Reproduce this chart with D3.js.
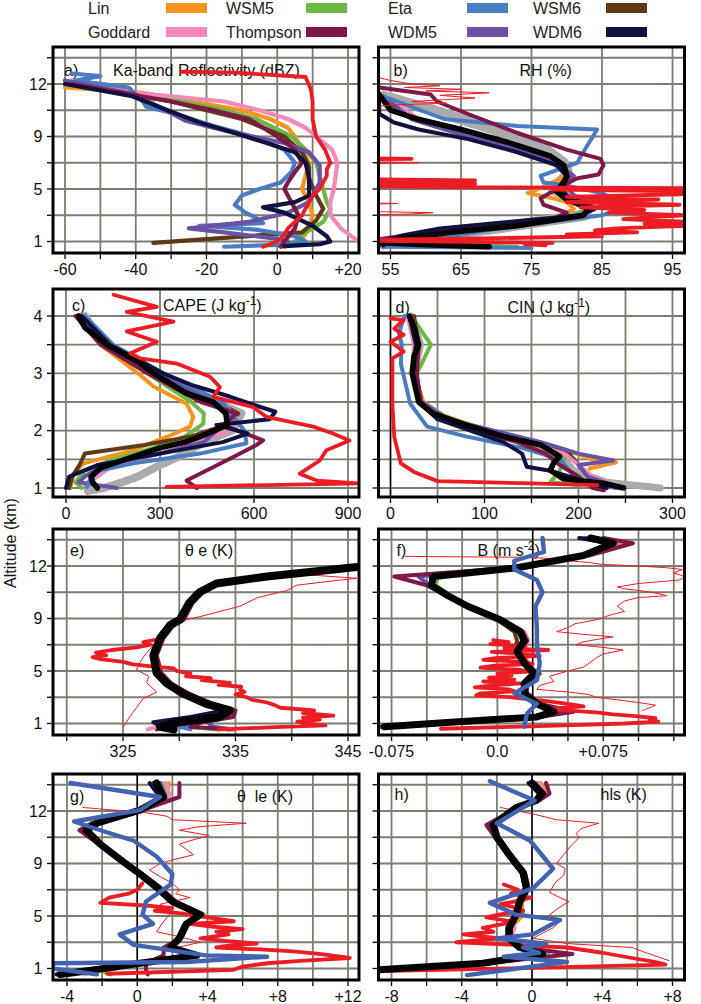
<!DOCTYPE html>
<html lang="en">
<head>
<meta charset="UTF-8">
<title>Model vertical profiles</title>
<script src="https://d3js.org/d3.v7.min.js"></script>
<style>
  body { margin: 0; background: #fff; }
  svg { font-family: "Liberation Sans", Arial, Helvetica, sans-serif; }
  .grid line { stroke: #7d7c72; stroke-width: 1.8; }
  .tk line { stroke: #000; stroke-width: 1.3; }
  .lbl { font-size: 16px; fill: #111; }
</style>
</head>
<body>
<script>
var W = 701, H = 1004;

// legend categories
var models = ["Lin", "WSM5", "Eta", "WSM6", "Goddard", "Thompson", "WDM5", "WDM6"];
var modelColors = ["#f7941d", "#6cb845", "#4a7cc2", "#5f3a17", "#f388b9", "#7e1846", "#6b51a3", "#0f1240"];

// y axes
var altGrid = [1, 3, 5, 7, 9, 10.5, 12, 13.5];
var altTicks = [1, 5, 9, 12];
var altTickLbls = ["1", "5", "9", "12"];
var lowGrid = [1, 1.5, 2, 2.5, 3, 3.5, 4];
var lowTicks = [1, 2, 3, 4];
var lowTickLbls = ["1", "2", "3", "4"];

// x axes
var aTicks = [-60, -40, -20, 0, 20], aTickLbls = ["-60", "-40", "-20", "0", "+20"];
var bTicks = [55, 65, 75, 85, 95], bTickLbls = ["55", "65", "75", "85", "95"];
var cTicks = [0, 300, 600, 900], cTickLbls = ["0", "300", "600", "900"];
var dTicks = [0, 100, 200, 300], dTickLbls = ["0", "100", "200", "300"];
var eTicks = [325, 335, 345], eTickLbls = ["325", "335", "345"];
var fTicks = [-0.075, 0, 0.075], fTickLbls = ["-0.075", "0.0", "+0.075"];
var gTicks = [-4, 0, 4, 8, 12], gTickLbls = ["-4", "0", "+4", "+8", "+12"];
var hTicks = [-8, -4, 0, 4, 8], hTickLbls = ["-8", "-4", "0", "+4", "+8"];

// ---- a) Ka-band reflectivity, [altitude km, dBZ]
var a_Lin = [[11.8,-60],[11.5,-38],[11,-24],[10.5,-10],[10,-2],[9.5,3],[9,5],[8,7],[7,9],[6,8],[5,7],[4,9],[3,10],[2,9],[1.2,7],[1,5],[0.6,2]];
var a_WSM5 = [[12,-60],[11.5,-40],[11,-27],[10.5,-15],[10,-6],[9,4],[8,8],[7,11],[6,12],[5,13],[4,14],[3.5,15],[3,14],[2.5,13],[2,10],[1.5,7],[1,5],[0.8,3]];
var a_Eta = [[12.6,-58],[12.45,-50],[12.2,-57],[11.8,-42],[11,-38],[10.7,-37],[10.3,-29],[9.6,-18],[9,-7],[8,2],[7,5],[6.3,4],[5.5,1],[5,-5],[4.5,-10],[3.8,-12],[3.2,-9],[2.8,-6],[2.4,-4],[2.2,-22],[1.9,-6],[1.4,5],[1,8],[0.75,1],[0.6,-15]];
var a_WSM6 = [[12,-58],[11,-30],[10,-10],[9,2],[7.8,7],[6.7,9],[5.8,9],[4.5,11],[3.5,13],[2.6,11],[1.7,7],[0.9,-35]];
var a_Goddard = [[12.2,-58],[11.5,-40],[11.2,-25],[11,-15],[10.5,-5],[10,3],[9.5,8],[9,11],[8,15.5],[7,17],[6,16.5],[5,16],[4,15],[3,15],[2,18],[1.2,22],[1,23]];
var a_Thompson = [[12,-58],[11,-30],[10.5,-18],[10,-8],[9,0],[8,5],[7,7],[6.3,5],[5.5,3],[5,2],[4,4],[3,6],[2,5],[1,2],[0.6,1]];
var a_WDM5 = [[12.2,-60],[11.4,-40],[9.9,-26],[9.2,-12],[8.5,2],[7.8,9],[6.8,12],[5.5,12],[4,9],[3.2,3],[3,0],[2.5,-8],[2,-25],[1.7,-15],[1.2,0],[1,3]];
var a_WDM6 = [[12,-60],[11.3,-41],[10.5,-31],[9.8,-22],[9.2,-12],[8.5,-3],[7.8,5],[7,8],[5.8,9],[4.5,9],[4,5],[3.6,-4],[3.2,2],[2.7,6],[2.2,10],[1.4,14],[1,15],[0.8,12],[0.65,2]];
var a_obs = [[12.7,-27],[12.65,-12],[12.4,8],[11.7,9.5],[11,10],[10,10],[9,11],[8,13.5],[7,15],[6.5,14],[6,14],[5.5,13],[5,12],[4.5,10],[4,9],[3.5,8],[3,7],[2.5,5],[2,3],[1.5,2],[1,0],[0.6,-4]];

// ---- b) RH (%)
var b_gray = [[11.3,54],[10.5,61],[9,73],[8,77],[7,79.5],[6.5,80],[6,80],[5,78],[4,82],[3.5,83],[3,82.5],[2.5,76],[2,70],[1.5,62],[1,56],[0.8,54]];
var b_mean = [[11.4,53.4],[10.5,55],[10,58.8],[9.4,65],[8.5,72],[7.5,77.7],[6.8,79.6],[6,80],[5.3,79.5],[4.9,78.4],[4.2,80],[3.7,82.4],[3.5,83],[3,82.4],[2.2,73],[1.7,63.5],[1.2,56.4],[0.9,53.6],[0.75,60],[0.6,69]];
var b_WDM6 = [[11.4,53.4],[10.3,53.4],[9.8,55.5],[9.4,59],[8.8,66],[7.8,73],[6.8,78.6],[6,80],[5.2,79],[4.5,80],[4,82],[3.5,84],[3,82],[2.5,72],[2,62],[1.5,57],[1,53.4],[0.7,54]];
var b_Eta = [[11.3,54],[10,62.6],[9.6,73],[9.4,84.3],[7.5,82],[7,81.5],[6,76.3],[5.5,76.7],[5.3,79.5],[4.7,85],[3.7,88.5],[3,85],[2.5,77.7],[2,70.6],[1.4,63.5],[0.9,56.4],[0.6,54],[0.5,75]];
var b_Thompson = [[11.8,53.4],[11.4,60.7],[11,61.6],[10.3,65.9],[9.2,73],[8,80],[7.3,84.8],[6.8,85.2],[6.1,84.5],[5.8,81.4],[5,78.6],[4.3,76.3],[3.8,76.7],[3.2,80],[2.6,77.7],[2.2,68.2],[1.8,61],[1.4,56.4],[1.2,53.6]];
var b_Lin = [[11.3,54],[10,58],[9,66],[8,73.5],[7,78],[6,80],[5.5,78],[5,76],[4.7,74.5],[4.3,78],[4,80],[3.5,81],[3,79.5],[2.5,75],[2,66],[1.5,59],[1,54],[0.6,55]];
var b_WSM5 = [[11.3,54],[10,58.5],[9,67],[8,74],[7,78.5],[6,80.5],[5,79],[4.5,80],[4,81.5],[3.5,83],[3,81],[2.5,76],[2,68],[1.5,60],[1,55],[0.6,73]];
var b_WSM6 = [[11.3,53.5],[10,58],[9,66.5],[8,74],[7,79],[6,80.5],[5,79.5],[4.5,81],[4,82.5],[3.5,83.5],[3,82],[2.5,75],[2,67],[1.5,59],[1,54],[0.7,53.5]];
var b_Goddard = [[11.3,54],[10,59],[9,67.5],[8,74.5],[7,79],[6,80],[5,79],[4.5,81],[4,86],[3.5,84],[3,82],[2.5,74],[2,66],[1.5,60],[1,55]];
var b_WDM5 = [[11.3,54],[10,58],[9,66],[8,73],[7,78.5],[6,81],[5.3,80],[4.5,81],[4,83],[3.5,84],[3,82],[2.5,73],[2,64],[1.5,58],[1,54]];
var b_obs = [[0.7,77],[0.8,74],[0.9,78],[1.0,62],[1.1,45],[1.25,70],[1.4,85],[1.55,80],[1.7,90],[1.85,84],[2.0,87],[2.2,97],[2.35,91],[2.5,97],[2.7,88],[2.85,92],[3.0,97],[3.2,86],[3.4,91],[3.6,82],[3.8,96],[4.0,80],[4.2,93],[4.4,80],[4.6,96],[4.8,100],[4.95,78],[5.05,100],[5.15,62],[5.25,45],[5.4,67],[5.5,45],[5.65,67],[5.75,50],[5.9,45],[6.0,null],[7.25,45],[7.3,58],[7.4,45]];
var b_obs2 = [[12.4,53],[12.2,55],[12.0,58],[11.9,62],[11.8,57],[11.7,65],[11.6,60],[11.5,69],[11.35,62],[11.2,67],[11.0,58],[10.9,63],[10.8,55],[10.6,50],[10.5,null],[7.1,50],[7.0,59],[6.9,50],[6.8,null],[3.95,50],[3.9,56],[3.8,50],[3.7,null],[3.3,50],[3.2,61],[3.1,58],[3.0,50]];

// ---- c) CAPE (J/kg), lower levels 1-4 km
var c_gray = [[4,60],[3.5,120],[3,280],[2.5,480],[2.3,560],[2,530],[1.8,440],[1.6,380],[1.4,300],[1.2,230],[1.1,180],[1.0,120],[0.95,70]];
var c_mean = [[4,40],[3.8,60],[3.5,130],[3.2,230],[3,280],[2.65,385],[2.5,470],[2.3,510],[2.1,515],[1.9,430],[1.8,380],[1.7,300],[1.5,190],[1.35,110],[1.2,80],[1.1,85],[1.0,100]];
var c_WDM6 = [[4,50],[3.5,140],[3,310],[2.8,400],[2.6,520],[2.45,600],[2.33,668],[2.2,650],[2.1,480],[1.95,580],[1.8,500],[1.6,300],[1.4,100],[1.2,10],[1.0,0]];
var c_Eta = [[4,60],[3.5,150],[3,310],[2.5,500],[2.2,540],[2,570],[1.78,576],[1.6,428],[1.43,215],[1.31,109],[1.16,77],[1.02,67]];
var c_Thompson = [[4,30],[3.5,110],[3,260],[2.5,430],[2.3,545],[2.1,500],[1.83,629],[1.75,608],[1.54,534],[1.13,385],[1.0,417]];
var c_Lin = [[4,40],[3.5,110],[3,230],[2.77,279],[2.47,385],[2.24,406],[2.07,396],[1.89,321],[1.66,215],[1.43,56],[1.25,24],[1.0,14]];
var c_WSM5 = [[4,45],[3.5,120],[3,260],[2.5,400],[2.3,440],[2.12,438],[1.9,380],[1.7,280],[1.5,150],[1.3,60],[1.1,30],[1.0,50]];
var c_WSM6 = [[4,50],[3.5,125],[3,270],[2.5,480],[2.3,550],[2.1,510],[1.9,400],[1.75,250],[1.6,60],[1.43,46],[1.2,20],[1.0,10]];
var c_Goddard = [[4,50],[3.5,130],[3,280],[2.5,500],[2.2,545],[2.0,520],[1.8,420],[1.6,300],[1.4,150],[1.2,100],[1.05,60]];
var c_WDM5 = [[4,45],[3.5,125],[3,275],[2.5,490],[2.2,530],[2.0,480],[1.8,440],[1.6,300],[1.4,120],[1.2,60],[1.1,40],[1.0,162]];
var c_obs = [[4.37,152],[4.16,290],[4.07,194],[3.9,343],[3.73,194],[3.55,290],[3.35,205],[3.26,237],[3.17,353],[2.94,460],[2.76,491],[2.59,470],[2.41,598],[2.24,640],[2.07,789],[1.95,852],[1.83,905],[1.66,831],[1.48,810],[1.25,746],[1.13,800],[1.08,935],[1.02,321]];

// ---- d) CIN (J/kg)
var d_gray = [[4,22],[3.5,32],[3,25],[2.5,32],[2.2,60],[2,100],[1.8,150],[1.5,185],[1.3,195],[1.1,230],[1.0,287]];
var d_mean = [[4,20],[3.8,25],[3.5,30],[3.3,25],[3,23],[2.5,30],[2.3,45],[2.1,80],[1.9,120],[1.75,160],[1.55,180],[1.45,174],[1.31,170],[1.16,184],[1.08,227],[1.0,248]];
var d_Lin = [[4,20],[3.5,28],[3,25],[2.5,35],[2.3,50],[2.1,85],[1.9,130],[1.7,180],[1.5,215],[1.45,240],[1.34,212]];
var d_WSM5 = [[4,22],[3.5,43],[3,28],[2.5,30],[2.3,47],[2.1,82],[1.9,125],[1.7,165],[1.5,185],[1.3,180],[1.1,170],[1.05,200]];
var d_Eta = [[4,15],[3.7,9],[3.5,12],[3.17,11],[2.47,21],[2.07,39],[1.9,80],[1.7,140],[1.5,180],[1.3,191],[1.1,200],[1.0,240]];
var d_WSM6 = [[4,25],[3.5,30],[3,27],[2.5,33],[2.2,60],[2,100],[1.8,150],[1.6,190],[1.4,200],[1.2,210],[1.0,230]];
var d_Goddard = [[4,18],[3.5,25],[3,23],[2.5,30],[2.2,55],[2,95],[1.8,145],[1.6,185],[1.4,200],[1.2,215],[1.0,240]];
var d_Thompson = [[4,20],[3.5,30],[3,28],[2.5,32],[2.2,55],[2,90],[1.8,135],[1.6,165],[1.4,180],[1.2,200],[1.0,215],[0.96,227]];
var d_WDM5 = [[4,22],[3.5,28],[3,26],[2.5,33],[2.2,60],[2,110],[1.8,160],[1.6,200],[1.48,237],[1.4,200],[1.2,210],[1.0,245]];
var d_WDM6 = [[4,20],[3.5,27],[3,24],[2.5,30],[2.2,50],[2,85],[1.8,120],[1.6,140],[1.37,145],[1.3,170],[1.2,190],[1.0,230]];
var d_obs = [[3.96,0],[3.93,14],[3.78,4],[3.67,14],[3.55,0],[3.38,14],[3.26,2],[3.06,2],[2.47,2],[1.89,4],[1.43,11],[1.28,25],[1.12,50],[1.08,150],[1.05,220]];

// ---- e) theta-e (K): models on a common altitude grid
var eAlt = [12.0, 11.8, 11.4, 11.0, 10.5, 9.9, 8.9, 8.5, 7.5, 6.2, 4.85, 4.05, 3.3, 2.5, 2.0, 1.5, 1.1, 0.75, 0.55];
var e_mean =     [346.5, 343.7, 337.8, 333.3, 331.8, 330.9, 330.05, 329.2, 328.3, 327.7, 328.0, 328.9, 330.3, 332.4, 334.5, 333.6, 330.05, 328.3, 329.5];
var e_Lin =      [346, 343.5, 337.6, 333.2, 331.7, 330.8, 330.0, 329.1, 328.2, 327.6, 327.9, 328.8, 330.2, 332.3, 334.4, 333.7, 330.5, 329.0, 329.5];
var e_WSM5 =     [346, 343.8, 338.0, 333.4, 331.9, 331.0, 330.1, 329.3, 328.4, 327.6, 327.8, 328.8, 330.3, 332.5, 334.6, 334.0, 331.0, 330.5, 333.5];
var e_Eta =      [346, 343.6, 337.9, 333.5, 332.0, 331.1, 330.2, 329.3, 328.4, 327.9, 328.2, 329.0, 330.5, 332.6, 334.6, 334.6, 332.0, 330.0, 331.0];
var e_WSM6 =     [346, 343.7, 337.8, 333.3, 331.8, 330.9, 330.1, 329.2, 328.3, 327.7, 328.1, 329.0, 330.4, 332.5, 334.5, 333.5, 330.0, 328.5, 328.0];
var e_Goddard =  [346, 343.7, 337.9, 333.4, 331.9, 331.0, 330.1, 329.3, 328.4, 327.8, 328.1, 329.0, 330.4, 332.5, 334.5, 333.3, 329.5, 328.0, 327.2];
var e_Thompson = [346, 344.0, 338.2, 333.6, 332.1, 331.2, 330.4, 329.5, 328.6, 328.0, 328.4, 329.3, 330.8, 333.0, 335.0, 334.8, 332.0, 331.0, 334.5];
var e_WDM5 =     [346, 343.7, 337.8, 333.3, 331.8, 330.9, 330.0, 329.2, 328.3, 327.7, 328.0, 328.9, 330.3, 332.5, 334.6, 334.2, 332.5, 333.0, 334.8];
var e_WDM6 =     [346, 343.6, 337.7, 333.2, 331.7, 330.8, 330.0, 329.1, 328.2, 327.6, 327.9, 328.8, 330.2, 332.3, 334.0, 331.0, 327.7, 328.5, 329.0];
var e_obs = [[0.55,333.5],[0.7,338],[0.85,343],[1.0,341],[1.15,340.5],[1.3,342.5],[1.45,341],[1.6,343.7],[1.8,341],[2.0,342],[2.2,339],[2.4,338.5],[2.6,337.8],[2.8,336.5],[3.0,336],[3.2,335],[3.4,335.8],[3.6,335.4],[3.8,335.5],[3.95,333.5],[4.1,334.5],[4.3,332],[4.45,332.8],[4.6,330.6],[4.8,331],[5.0,329.8],[5.2,329.5],[5.35,327.5],[5.5,325.9],[5.7,325],[5.9,323],[6.05,322.3],[6.2,323.5],[6.4,322.6],[6.6,324],[6.8,326.2],[7.0,327.5],[7.2,326.8],[7.4,328.0]];
var e_obs2 = [[0.7,325],[1.5,325.6],[2.2,326.2],[2.9,326.8],[3.4,328],[4.1,327.1],[4.6,327.3],[5.1,326.2],[5.8,326.6],[6.4,327.1],[7.2,328],[8,328.9],[8.9,330.6],[9.1,331.8],[9.7,335.4],[10.2,337],[10.6,339.6],[10.9,340.4],[11.1,343],[11.3,345.8],[11.5,341.3],[11.8,343],[12.1,345]];

// ---- f) buoyancy (m s-2)
var fAlt = [13.6, 13.3, 12.6, 11.9, 11.4, 10.9, 10.3, 9.7, 8.9, 8.0, 7.3, 6.5, 5.6, 4.8, 4.05, 3.3, 2.5, 1.9, 1.5, 1.1, 0.75];
var f_mean =     [0.066, 0.082, 0.061, 0.014, -0.045, -0.047, -0.035, -0.021, 0.002, 0.016, 0.019, 0.014, 0.019, 0.026, 0.019, 0.019, 0.028, 0.040, 0.028, -0.033, -0.080];
var f_Lin =      [0.070, 0.088, 0.063, 0.016, -0.043, -0.046, -0.034, -0.020, 0.003, 0.017, 0.020, 0.015, 0.020, 0.027, 0.020, 0.020, 0.030, 0.044, 0.030, -0.030, -0.078];
var f_WSM5 =     [0.060, 0.080, 0.060, 0.018, -0.042, -0.044, -0.033, -0.020, 0.003, 0.017, 0.020, 0.016, 0.021, 0.027, 0.021, 0.021, 0.029, 0.042, 0.029, -0.031, -0.079];
var f_WSM6 =     [0.063, 0.083, 0.061, 0.014, -0.045, -0.047, -0.035, -0.022, 0.000, 0.012, 0.014, 0.012, 0.018, 0.030, 0.020, 0.020, 0.030, 0.040, 0.028, -0.033, -0.080];
var f_Goddard =  [0.068, 0.085, 0.062, 0.015, -0.046, -0.048, -0.034, -0.020, 0.004, 0.019, 0.022, 0.017, 0.022, 0.027, 0.020, 0.018, 0.030, 0.042, 0.029, -0.032, -0.082];
var f_Thompson = [0.075, 0.096, 0.065, 0.012, -0.073, -0.050, -0.036, -0.020, 0.004, 0.018, 0.021, 0.016, 0.021, 0.028, 0.021, 0.021, 0.030, 0.054, 0.030, -0.030, -0.082];
var f_WDM5 =     [0.062, 0.084, 0.062, 0.015, -0.056, -0.048, -0.035, -0.021, 0.002, 0.016, 0.019, 0.014, 0.019, 0.026, 0.019, 0.019, 0.028, 0.045, 0.030, -0.036, -0.083];
var f_WDM6 =     [0.058, 0.080, 0.060, 0.013, -0.047, -0.047, -0.035, -0.021, 0.002, 0.016, 0.019, 0.014, 0.019, 0.025, 0.019, 0.019, 0.027, 0.038, 0.027, -0.034, -0.080];
var f_Eta = [[13.6,0.032],[12.8,0.033],[12.3,0.012],[11.8,0.012],[11.2,0.028],[10.5,0.032],[9.7,0.027],[8.2,0.028],[7.0,0.028],[5.6,0.030],[4.3,0.028],[3.3,0.012],[2.5,0.028],[1.75,0.021],[0.75,0.019]];
var f_obs = [[7.35,-0.003],[7.2,0.008],[7.05,-0.005],[6.9,0.02],[6.75,0.005],[6.6,0.036],[6.45,-0.004],[6.3,0.02],[6.15,0.03],[6.0,0.0],[5.85,-0.01],[5.7,0.018],[5.55,0.025],[5.4,-0.002],[5.25,-0.012],[5.1,0.015],[4.95,0.022],[4.8,0.0],[4.65,0.01],[4.5,-0.006],[4.35,0.012],[4.2,-0.01],[4.05,0.016],[3.9,-0.003],[3.75,-0.016],[3.6,0.008],[3.45,0.012],[3.3,-0.012],[3.15,-0.015],[3.0,0.01],[2.85,0.022],[2.7,0.035],[2.5,0.05],[2.3,0.061],[2.15,0.04],[2.0,0.048],[1.85,0.07],[1.7,0.082],[1.55,0.1],[1.4,0.112],[1.25,0.108],[1.15,0.114],[1.0,0.09],[0.9,0.06],[0.75,0.01],[0.6,-0.04]];
var f_obs2 = [[12.55,-0.065],[12.52,-0.02],[12.5,0.02],[12.45,0.033],[12.3,0.05],[12.2,0.065],[12.1,0.073],[12.0,0.1],[11.9,0.12],[11.8,0.131],[11.6,0.125],[11.4,0.133],[11.2,0.129],[11.0,0.1],[10.8,0.085],[10.7,0.09],[10.5,0.11],[10.3,0.12],[10.2,0.1],[10.0,0.09],[9.7,0.085],[9.4,0.09],[9.2,0.08],[8.9,0.07],[8.6,0.055],[8.3,0.05],[8.0,0.042],[7.8,0.06],[7.6,0.082],[7.4,0.07],[7.2,0.06],[7.0,0.056],[6.8,0.075],[6.6,0.089],[6.3,0.075],[6.0,0.07],[5.6,0.065],[5.3,0.061],[5.0,0.05],[4.6,0.037],[4.2,0.04],[3.9,0.03],[3.6,0.028],[3.4,0.05],[3.2,0.065],[3.0,0.07],[2.8,0.085],[2.6,0.1],[2.4,0.112],[2.2,0.108],[2.0,0.103]];

// ---- g) theta-le (K)
var gAlt = [13.6, 12.8, 12.05, 11.3, 10.9, 10.1, 9.1, 8.2, 7.2, 6.1, 5.1, 4.4, 3.3, 2.6, 2.0, 1.4, 0.8, 0.55];
var g_mean =     [1.1, 1.5, 0.15, -2.3, -2.9, -2.1, -0.8, 0.15, 1.1, 2.0, 3.6, 2.8, 2.4, 1.9, 3.4, 0.15, -2.9, -4.4];
var g_Lin =      [1.8, 1.7, 0.3, -2.2, -2.8, -2.0, -0.7, 0.2, 1.2, 2.1, 3.7, 2.9, 2.5, 1.6, 3.0, 0.3, -3.5, -3.9];
var g_WSM5 =     [1.4, 1.8, 0.4, -2.2, -2.8, -2.0, -0.7, 0.2, 1.2, 2.1, 3.8, 2.9, 2.5, 2.0, 3.5, 0.5, -2.0, -1.5];
var g_WSM6 =     [0.9, 1.4, 0.1, -2.4, -3.0, -2.2, -0.9, 0.1, 1.0, 1.9, 3.5, 2.7, 2.3, 1.8, 3.3, 0.0, -3.0, -4.2];
var g_Goddard =  [1.6, 1.9, 0.3, -2.2, -2.8, -2.0, -0.7, 0.2, 1.2, 2.1, 3.7, 2.9, 2.5, 2.0, 3.5, 0.3, -2.5, -3.0];
var g_Thompson = [2.4, 2.4, 0.3, -2.6, -3.3, -2.2, -0.7, 0.3, 1.3, 2.2, 3.7, 2.9, 2.5, 1.5, 1.5, 0.5, 0.5, 0.6];
var g_WDM5 =     [1.3, 1.6, 0.2, -2.3, -2.9, -2.1, -0.8, 0.15, 1.1, 2.0, 3.6, 2.8, 2.4, 1.8, 3.2, 0.0, -2.7, -4.0];
var g_WDM6 =     [0.7, 1.3, 0.1, -2.4, -3.0, -2.2, -0.9, 0.1, 1.0, 1.9, 3.5, 2.7, 2.3, 1.8, 3.3, 0.0, -3.8, -4.6];
var g_Eta = [[13.6,-3.8],[12.8,1.3],[12.05,0.15],[11.4,-3.6],[10.9,-2.1],[10.3,-0.2],[9.4,1.1],[8.2,2.0],[7.4,1.9],[6.1,0.5],[5.1,0.3],[4.4,0.9],[3.6,-1.0],[2.8,-0.2],[2.0,3.9],[1.9,7.4],[1.5,2.8],[1.4,-4.8],[1.0,-4.8],[0.55,-2.3]];
var g_obs = [[7.5,0.3],[7.0,0.0],[6.7,-0.5],[6.4,-1.6],[6.0,-2.1],[5.8,0.5],[5.6,2.0],[5.4,1.0],[5.2,2.5],[4.9,4.0],[4.6,5.5],[4.4,3.0],[4.2,4.2],[4.0,6.0],[3.8,4.5],[3.6,5.2],[3.3,3.6],[3.1,5.0],[2.9,6.8],[2.75,5.2],[2.6,4.5],[2.45,7.0],[2.3,8.9],[2.1,10.5],[1.8,12.1],[1.6,9.5],[1.4,7.4],[1.15,6.0],[0.9,5.5],[0.6,-1.7]];
var g_obs2 = [[12.2,-3.1],[11.9,0.5],[11.7,1.7],[11.5,2.0],[11.3,6.2],[11.1,3.5],[10.9,2.4],[10.6,4.1],[10.3,3.0],[10.1,2.4],[9.8,2.8],[9.5,3.2],[9.2,2.0],[9.0,1.3],[8.5,0.7],[8.0,1.3],[7.5,2.0],[7.0,2.4],[6.7,2.2],[6.4,3.0],[5.9,1.3],[5.4,2.0],[4.9,1.7],[4.4,1.4],[3.8,1.1],[3.4,2.5],[3.0,3.6],[2.5,1.9]];

// ---- h) hls (K)
var hAlt = [13.6, 13.0, 12.6, 12.2, 11.2, 10.5, 9.5, 8.3, 7.1, 6.1, 5.1, 4.1, 3.3, 2.6, 2.1, 1.4, 0.9];
var h_mean =     [0.0, 0.6, 0.25, -0.9, -2.2, -2.0, -1.3, -0.5, -0.3, -0.7, -0.9, -1.3, -1.3, -0.7, 0.6, -2.8, -8.7];
var h_Lin =      [0.5, 0.8, 0.3, -0.8, -2.1, -1.9, -1.2, -0.4, -0.2, -0.6, -0.5, -1.2, -1.2, -0.2, 0.8, -2.5, -8.5];
var h_WSM5 =     [0.3, 0.7, 0.3, -0.8, -2.1, -1.9, -1.2, -0.4, -0.2, -0.6, -0.8, -1.2, -1.2, -0.5, 0.9, -2.6, -8.6];
var h_WSM6 =     [-0.1, 0.5, 0.2, -1.0, -2.3, -2.1, -1.4, -0.6, -0.4, -0.8, -1.0, -1.4, -1.4, -0.8, 0.5, -2.9, -8.8];
var h_Goddard =  [0.4, 0.7, 0.3, -0.8, -2.1, -1.9, -1.2, -0.4, -0.2, -0.5, -1.1, -1.0, -1.2, -0.6, 0.8, -2.7, -8.6];
var h_Thompson = [0.8, 1.0, 0.4, -0.8, -2.6, -2.1, -1.2, -0.4, -0.2, -0.6, -0.8, -1.2, -1.2, -0.6, 2.3, -2.5, -8.5];
var h_WDM5 =     [0.2, 0.6, 0.25, -0.9, -2.2, -2.0, -1.3, -0.5, -0.3, -0.7, -0.9, -1.3, -1.3, -0.7, 0.7, -2.8, -8.7];
var h_WDM6 =     [-0.2, 0.4, 0.2, -1.0, -2.3, -2.1, -1.4, -0.6, -0.4, -0.8, -1.0, -1.4, -1.4, -0.8, 0.4, -3.0, -8.8];
var h_Eta = [[13.7,-2.4],[12.6,0.15],[11.3,-2.0],[10.3,-0.1],[8.6,1.2],[7.1,0.05],[6.0,-2.4],[5.1,-0.9],[4.7,1.6],[3.6,0.05],[3.3,-2.0],[2.9,0.8],[2.6,-0.5],[2.2,0.4],[1.9,-1.6],[1.5,2.0],[0.5,-3.7]];
var h_obs = [[7.4,-1.6],[7.0,-0.8],[6.7,-1.2],[6.4,-0.1],[6.1,-1.0],[5.9,-1.8],[5.6,-0.8],[5.4,-0.5],[5.1,-1.9],[4.9,-2.6],[4.6,-1.2],[4.4,-1.6],[4.1,-2.8],[3.8,-2.2],[3.6,-3.9],[3.4,-2.6],[3.3,-1.8],[3.15,-3.2],[3.0,-4.3],[2.8,-1.0],[2.6,2.0],[2.2,4.0],[1.8,5.7],[1.5,7.0],[1.3,7.6],[1.05,0.0],[0.8,-8.7]];
var h_obs2 = [[12.2,-1.8],[11.8,0.2],[11.5,1.4],[11.3,3.8],[11.0,2.8],[10.7,2.5],[10.5,2.7],[10.0,2.2],[9.5,1.8],[9.0,1.4],[8.6,1.9],[8.1,1.8],[7.5,1.3],[6.8,1.0],[6.4,1.6],[6.1,2.1],[5.6,1.5],[5.1,1.0],[4.6,1.6],[4.1,1.2],[3.7,0.6],[3.3,0.05],[2.9,2.0],[2.6,5.7],[2.2,6.5],[1.6,7.8]];

// ---------------- layout
var colX = [53, 378.5];
var rowY = [47, 289, 529, 774];
var rowH = [206, 208, 206, 206];
var pw = 306;

var color = {};
models.forEach(function (m, i) { color[m] = modelColors[i]; });
color.gray = "#ababab"; color.mean = "#000"; color.obs = "#ec1c24"; color.obs2 = "#ec1c24";

var panels = [
  { id: "a", col: 0, row: 0, low: false, xDom: [-63.39, 23.11], xGrid: d3.range(-60, 21, 10), ticks: aTicks, tickLbls: aTickLbls, zero: null,
    label: "a)", lab: [11, 29], title: [["Ka-band Reflectivity (dBZ)", 0]], tit: [60, 29], mw: 4.2, bw: 5, gw: 10,
    data: { Lin: a_Lin, WSM5: a_WSM5, WSM6: a_WSM6, Goddard: a_Goddard, Eta: a_Eta, WDM5: a_WDM5, Thompson: a_Thompson, WDM6: a_WDM6, obs: a_obs } },
  { id: "b", col: 1, row: 0, low: false, xDom: [53.3, 96.7], xGrid: bTicks, ticks: bTicks, tickLbls: bTickLbls, zero: null,
    label: "b)", lab: [15, 29], title: [["RH (%)", 0]], tit: [141, 29], mw: 4, bw: 5.5, gw: 11,
    data: { gray: b_gray, Lin: b_Lin, WSM5: b_WSM5, WSM6: b_WSM6, Goddard: b_Goddard, WDM5: b_WDM5, Eta: b_Eta, Thompson: b_Thompson, WDM6: b_WDM6, mean: b_mean, obs: b_obs, obs2: b_obs2 } },
  { id: "c", col: 0, row: 1, low: true, xDom: [-41.5, 935.1], xGrid: cTicks, ticks: cTicks, tickLbls: cTickLbls, zero: null,
    label: "c)", lab: [19, 22], title: [["CAPE (J kg", 0], ["-1", 1], [")", 0]], tit: [110, 22], mw: 4, bw: 5.5, gw: 8,
    data: { gray: c_gray, Lin: c_Lin, WSM5: c_WSM5, WSM6: c_WSM6, Goddard: c_Goddard, WDM5: c_WDM5, Eta: c_Eta, Thompson: c_Thompson, WDM6: c_WDM6, mean: c_mean, obs: c_obs } },
  { id: "d", col: 1, row: 1, low: true, xDom: [-12.77, 312.8], xGrid: d3.range(0, 301, 50), ticks: dTicks, tickLbls: dTickLbls, zero: 0,
    label: "d)", lab: [17, 24], title: [["CIN (J kg", 0], ["-1", 1], [")", 0]], tit: [129, 24], mw: 4, bw: 5.5, gw: 7,
    data: { gray: d_gray, Lin: d_Lin, WSM5: d_WSM5, WSM6: d_WSM6, Goddard: d_Goddard, WDM5: d_WDM5, Eta: d_Eta, Thompson: d_Thompson, WDM6: d_WDM6, mean: d_mean, obs: d_obs } },
  { id: "e", col: 0, row: 2, low: false, xDom: [318.78, 345.98], xGrid: d3.range(320, 346, 5), ticks: eTicks, tickLbls: eTickLbls, zero: null,
    label: "e)", lab: [17, 27], title: [["\u03b8 e (K)", 0]], tit: [132, 27], mw: 4, bw: 8, gw: 9,
    data: { Lin: d3.zip(eAlt, e_Lin), WSM5: d3.zip(eAlt, e_WSM5), Eta: d3.zip(eAlt, e_Eta), WSM6: d3.zip(eAlt, e_WSM6), Goddard: d3.zip(eAlt, e_Goddard), WDM5: d3.zip(eAlt, e_WDM5), Thompson: d3.zip(eAlt, e_Thompson), WDM6: d3.zip(eAlt, e_WDM6), obs: e_obs, obs2: e_obs2, mean: d3.zip(eAlt, e_mean) } },
  { id: "f", col: 1, row: 2, low: false, xDom: [-0.08424, 0.13258], xGrid: [-0.075, -0.05, -0.025, 0, 0.025, 0.05, 0.075, 0.1, 0.125], ticks: fTicks, tickLbls: fTickLbls, zero: 0.025,
    label: "f)", lab: [18, 27], title: [["B (m s", 0], ["-2", 1], [")", 0]], tit: [99, 27], mw: 4, bw: 7, gw: 9,
    data: { Lin: d3.zip(fAlt, f_Lin), WSM5: d3.zip(fAlt, f_WSM5), WSM6: d3.zip(fAlt, f_WSM6), Goddard: d3.zip(fAlt, f_Goddard), WDM5: d3.zip(fAlt, f_WDM5), Thompson: d3.zip(fAlt, f_Thompson), WDM6: d3.zip(fAlt, f_WDM6), obs: f_obs, obs2: f_obs2, mean: d3.zip(fAlt, f_mean), Eta: f_Eta } },
  { id: "g", col: 0, row: 3, low: false, xDom: [-4.797, 12.626], xGrid: d3.range(-4, 13, 2), ticks: gTicks, tickLbls: gTickLbls, zero: 0,
    label: "g)", lab: [17, 28], title: [["\u03b8\u00a0\u00a0le (K)", 0]], tit: [184, 28], mw: 4, bw: 7, gw: 9,
    data: { Lin: d3.zip(gAlt, g_Lin), WSM5: d3.zip(gAlt, g_WSM5), WSM6: d3.zip(gAlt, g_WSM6), Goddard: d3.zip(gAlt, g_Goddard), WDM5: d3.zip(gAlt, g_WDM5), Thompson: d3.zip(gAlt, g_Thompson), WDM6: d3.zip(gAlt, g_WDM6), obs: g_obs, obs2: g_obs2, mean: d3.zip(gAlt, g_mean), Eta: g_Eta } },
  { id: "h", col: 1, row: 3, low: false, xDom: [-8.74, 8.683], xGrid: d3.range(-8, 9, 2), ticks: hTicks, tickLbls: hTickLbls, zero: 0,
    label: "h)", lab: [16, 26], title: [["hls (K)", 0]], tit: [222, 26], mw: 4, bw: 7, gw: 9,
    data: { Lin: d3.zip(hAlt, h_Lin), WSM5: d3.zip(hAlt, h_WSM5), WSM6: d3.zip(hAlt, h_WSM6), Goddard: d3.zip(hAlt, h_Goddard), WDM5: d3.zip(hAlt, h_WDM5), Thompson: d3.zip(hAlt, h_Thompson), WDM6: d3.zip(hAlt, h_WDM6), obs: h_obs, obs2: h_obs2, mean: d3.zip(hAlt, h_mean), Eta: h_Eta } }
];

var svg = d3.select("body").append("svg")
  .attr("width", W)
  .attr("height", H);

// legend
var legTextX = [88, 226, 388, 533], legBoxX = [166, 306, 467, 606], legBase = [14, 38];
models.forEach(function (m, i) {
  var r = Math.floor(i / 4), c = i % 4;
  svg.append("text")
    .attr("x", legTextX[c]).attr("y", legBase[r])
    .style("font-size", "16px").style("fill", "#222")
    .text(m);
  svg.append("rect")
    .attr("x", legBoxX[c]).attr("y", legBase[r] - 11)
    .attr("width", 41).attr("height", 10)
    .style("fill", modelColors[i]);
});

// y title
svg.append("text")
  .attr("transform", "translate(16,543) rotate(-90)")
  .attr("text-anchor", "middle")
  .style("font-size", "16px").style("fill", "#111")
  .text("Altitude (km)");

panels.forEach(function (p) {
  var w = pw, h = rowH[p.row];
  var g = svg.append("g").attr("transform", "translate(" + colX[p.col] + "," + rowY[p.row] + ")");
  var xs = d3.scaleLinear().domain(p.xDom).range([0, w]);
  var ys = p.low
    ? d3.scaleLinear().domain([1, 4]).range([199, 27])
    : d3.scaleLinear().domain([1, 5, 9, 12]).range([194.5, 142, 89.5, 37]);
  var yGrid = p.low ? lowGrid : altGrid;
  var yTicks = p.low ? lowTicks : altTicks;
  var yTickLbls = p.low ? lowTickLbls : altTickLbls;

  svg.append("clipPath").attr("id", "clip-" + p.id)
    .append("rect").attr("width", w).attr("height", h);

  // grid
  var grid = g.append("g").attr("class", "grid");
  grid.selectAll(".v").data(p.xGrid).join("line").attr("class", "v")
    .attr("x1", function (d) { return xs(d); }).attr("x2", function (d) { return xs(d); })
    .attr("y1", 0).attr("y2", h);
  grid.selectAll(".hz").data(yGrid).join("line").attr("class", "hz")
    .attr("x1", 0).attr("x2", w)
    .attr("y1", function (d) { return ys(d); }).attr("y2", function (d) { return ys(d); });

  if (p.zero !== null) {
    g.append("line")
      .attr("x1", xs(p.zero)).attr("x2", xs(p.zero))
      .attr("y1", 0).attr("y2", h)
      .style("stroke", "#000").style("stroke-width", 1.4);
  }

  // panel letter + title
  g.append("text").attr("x", p.lab[0]).attr("y", p.lab[1])
    .style("font-size", "16px").style("fill", "#111").text(p.label);
  var t = g.append("text").attr("x", p.tit[0]).attr("y", p.tit[1])
    .style("font-size", "16px").style("fill", "#111");
  var prevSup = 0;
  p.title.forEach(function (part) {
    var dy = part[1] ? -6 : (prevSup ? 6 : 0);
    t.append("tspan").attr("dy", dy)
      .style("font-size", part[1] ? "12px" : "16px")
      .text(part[0]);
    prevSup = part[1];
  });

  // profiles
  var line = d3.line()
    .defined(function (d) { return d[1] !== null; })
    .x(function (d) { return xs(d[1]); })
    .y(function (d) { return ys(d[0]); });

  var plot = g.append("g").attr("clip-path", "url(#clip-" + p.id + ")");
  var lower = p.id === "f" || p.id === "g" || p.id === "h";
  Object.keys(p.data).forEach(function (k) {
    var sw = k === "gray" ? p.gw : k === "mean" ? p.bw : k === "obs2" ? 1 : k === "obs" ? 3.8 : p.mw;
    var stroke = color[k];
    if (k === "Eta" && lower) { sw = 4.4; stroke = "#4263b0"; }
    plot.append("path")
      .datum(p.data[k])
      .attr("d", line)
      .style("fill", "none")
      .style("stroke", stroke)
      .style("stroke-width", sw)
      .style("stroke-linejoin", "round")
      .style("stroke-linecap", "round");
  });

  // frame
  g.append("rect").attr("width", w).attr("height", h)
    .style("fill", "none").style("stroke", "#000").style("stroke-width", 3);

  // tick marks
  var tk = g.append("g").attr("class", "tk");
  tk.selectAll(".bt").data(p.xGrid).join("line").attr("class", "bt")
    .attr("x1", function (d) { return xs(d); }).attr("x2", function (d) { return xs(d); })
    .attr("y1", h + 1.5).attr("y2", h + 6);
  tk.selectAll(".lt").data(yGrid).join("line").attr("class", "lt")
    .attr("x1", -6).attr("x2", -1.5)
    .attr("y1", function (d) { return ys(d); }).attr("y2", function (d) { return ys(d); });

  // tick labels
  g.selectAll(".xl").data(p.ticks).join("text").attr("class", "lbl xl")
    .attr("x", function (d) { return xs(d); })
    .attr("y", h + 22)
    .attr("text-anchor", "middle")
    .text(function (d, i) { return p.tickLbls[i]; });

  if (p.col === 0) {
    g.selectAll(".yl").data(yTicks).join("text").attr("class", "lbl yl")
      .attr("x", -15)
      .attr("y", function (d) { return ys(d); })
      .attr("dy", "0.36em")
      .attr("text-anchor", "middle")
      .text(function (d, i) { return yTickLbls[i]; });
  }
});
</script>
</body>
</html>
